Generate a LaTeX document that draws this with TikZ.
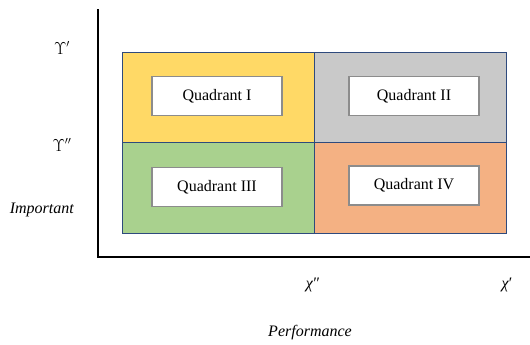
\documentclass[tikz,border=0pt]{standalone}
\usepackage{fontspec}
\setmainfont{Liberation Serif}
\usepackage{xcolor}
\usetikzlibrary{positioning}

\definecolor{quadyellow}{HTML}{FFD966}
\definecolor{quadgray}{HTML}{C9C9C9}
\definecolor{quadgreen}{HTML}{A9D18E}
\definecolor{quadorange}{HTML}{F4B183}
\definecolor{gridblue}{HTML}{2E4A7D}
\definecolor{boxgray}{HTML}{8C8C8C}

\begin{document}
\begin{tikzpicture}[x=1pt,y=-1pt,
    every node/.style={font=\fontsize{16}{19}\selectfont},
    cell/.style={draw=gridblue,line width=1pt},
    quadbox/.style={draw=boxgray,line width=1.2pt,fill=white,minimum width=130pt,minimum height=39pt,inner sep=0pt}]
    \useasboundingbox (0,0) rectangle (530,345);

    % Draw the main axes
    \coordinate (top) at (98,10);
    \coordinate (origin) at (98,257);
    \coordinate (right) at (529,257);
    \draw[line width=2pt,line cap=rect] (top) -- (origin) -- (right);

    % Fill the four quadrants
    \filldraw[cell,fill=quadyellow] (122,53) rectangle (314,142);
    \filldraw[cell,fill=quadgray] (314,53) rectangle (506,142);
    \filldraw[cell,fill=quadgreen] (122,142) rectangle (314,233);
    \filldraw[cell,fill=quadorange] (314,142) rectangle (506,233);

    % Quadrant labels
    \node[quadbox] (q1) at (217,96) {Quadrant I};
    \node[quadbox] (q2) at (414,96) {Quadrant II};
    \node[quadbox] (q3) at (217,187) {Quadrant III};
    \node[quadbox] (q4) at (414,185.5) {Quadrant IV};

    % Axis labels
    \node (yhigh) at (62,48) {$\Upsilon'$};
    \node (ylow) at (62,145) {$\Upsilon''$};
    \node (ylabel) at (42,210) {\textit{Important}};
    \node (xlow) at (313,285) {\textit{χ}″};
    \node (xhigh) at (507,285) {\textit{χ}′};
    \node (xlabel) at (310,333) {\textit{Performance}};
\end{tikzpicture}
\end{document}
